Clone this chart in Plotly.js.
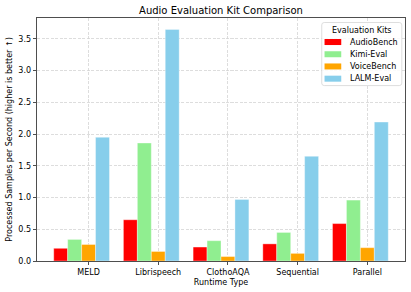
<!DOCTYPE html>
<html>
<head>
<meta charset="utf-8">
<script src="https://cdn.plot.ly/plotly-3.0.1.min.js"></script>
<style>html,body{margin:0;padding:0;background:#fff;}#chart{width:411px;height:292px;}</style>
</head>
<body>
<div id="chart"></div>
<script>
const categories = ["MELD", "Librispeech", "ClothoAQA", "Sequential", "Parallel"];
const seriesNames = ["AudioBench", "Kimi-Eval", "VoiceBench", "LALM-Eval"];
const audioBench = [0.20, 0.65, 0.22, 0.27, 0.59];
const kimiEval = [0.34, 1.86, 0.32, 0.45, 0.96];
const voiceBench = [0.26, 0.15, 0.07, 0.12, 0.21];
const lalmEval = [1.95, 3.65, 0.97, 1.65, 2.19];
const colors = ["#FF0000", "#90EE90", "#FFA500", "#87CEEB"];
const yTicks = [0, 0.5, 1.0, 1.5, 2.0, 2.5, 3.0, 3.5];

const allSeries = [audioBench, kimiEval, voiceBench, lalmEval];
const idx = categories.map((c, i) => i);
const barW = 0.2;
const font = "DejaVu Sans, sans-serif";

const traces = allSeries.map((vals, k) => ({
  type: "bar",
  x: idx,
  y: vals,
  width: barW,
  offset: -0.5 + k * barW,
  name: seriesNames[k],
  marker: {color: colors[k], line: {color: "rgba(255,255,255,0.6)", width: 0.6}},
  showlegend: false,
  hoverinfo: "skip"
}));

// manual legend (matplotlib-style)
const shapes = [];
const annotations = [];
const lx0 = 321.5, lx1 = 401.5, ly0 = 22.5, ly1 = 85.5;
const W = 411, H = 292, ml = 37, mr = 6.3, mt = 18, mb = 31.3;
const pw = W - ml - mr, ph = H - mt - mb;
const px = v => (v - ml) / pw;
const py = v => 1 - (v - mt) / ph;
const r = 2.5;
shapes.push({
  type: "path", xref: "paper", yref: "paper",
  path: `M ${px(lx0 + r)},${py(ly0)} L ${px(lx1 - r)},${py(ly0)} Q ${px(lx1)},${py(ly0)} ${px(lx1)},${py(ly0 + r)} L ${px(lx1)},${py(ly1 - r)} Q ${px(lx1)},${py(ly1)} ${px(lx1 - r)},${py(ly1)} L ${px(lx0 + r)},${py(ly1)} Q ${px(lx0)},${py(ly1)} ${px(lx0)},${py(ly1 - r)} L ${px(lx0)},${py(ly0 + r)} Q ${px(lx0)},${py(ly0)} ${px(lx0 + r)},${py(ly0)} Z`,
  fillcolor: "rgba(255,255,255,0.85)", line: {color: "#d5d5d5", width: 0.8}, layer: "above"
});
annotations.push({
  xref: "paper", yref: "paper", x: px(361.5), y: py(30.7), text: "Evaluation Kits",
  showarrow: false, xanchor: "center", yanchor: "middle", font: {family: font, size: 8, color: "#000"}
});
const rowY = [42, 54.2, 66.4, 78.6];
seriesNames.forEach((n, k) => {
  shapes.push({
    type: "rect", xref: "paper", yref: "paper",
    x0: px(324.3), x1: px(341), y0: py(rowY[k] - 3), y1: py(rowY[k] + 3),
    fillcolor: colors[k], line: {width: 0}, layer: "above"
  });
  annotations.push({
    xref: "paper", yref: "paper", x: px(347.5), y: py(rowY[k]), text: n,
    showarrow: false, xanchor: "left", yanchor: "middle", font: {family: font, size: 8, color: "#000"}
  });
});

const layout = {
  width: W, height: H,
  margin: {l: ml, r: mr, t: mt, b: mb, pad: 0},
  paper_bgcolor: "#fff", plot_bgcolor: "#fff",
  barmode: "overlay",
  font: {family: font, size: 8, color: "#000"},
  title: {text: "Audio Evaluation Kit Comparison", font: {family: font, size: 10, color: "#000"},
          x: 0.5, xref: "paper", xanchor: "center", y: 1 - 10 / H, yref: "container", yanchor: "middle"},
  xaxis: {
    range: [-0.74, 4.54], tickvals: idx, ticktext: categories,
    ticks: "outside", ticklen: 3.5, tickwidth: 0.8, tickcolor: "#222",
    showline: true, linecolor: "#222", linewidth: 0.8, mirror: true,
    showgrid: true, gridcolor: "#d4d4d4", griddash: "3px,1.5px", gridwidth: 0.8,
    zeroline: false, tickfont: {family: font, size: 8, color: "#000"},
    title: {text: "Runtime Type", font: {family: font, size: 8, color: "#000"}, standoff: 3}
  },
  yaxis: {
    range: [0, 3.83], tickvals: yTicks, tickformat: ".1f",
    ticks: "outside", ticklen: 3.5, tickwidth: 0.8, tickcolor: "#222",
    showline: true, linecolor: "#222", linewidth: 0.8, mirror: true,
    showgrid: true, gridcolor: "#d4d4d4", griddash: "3px,1.5px", gridwidth: 0.8,
    zeroline: false, tickfont: {family: font, size: 8, color: "#000"},
    title: {text: "Processed Samples per Second (higher is better ↑)", font: {family: font, size: 8, color: "#000"}, standoff: 4}
  },
  shapes: shapes,
  annotations: annotations
};

Plotly.newPlot("chart", traces, layout, {staticPlot: true, displayModeBar: false});
</script>
</body>
</html>
